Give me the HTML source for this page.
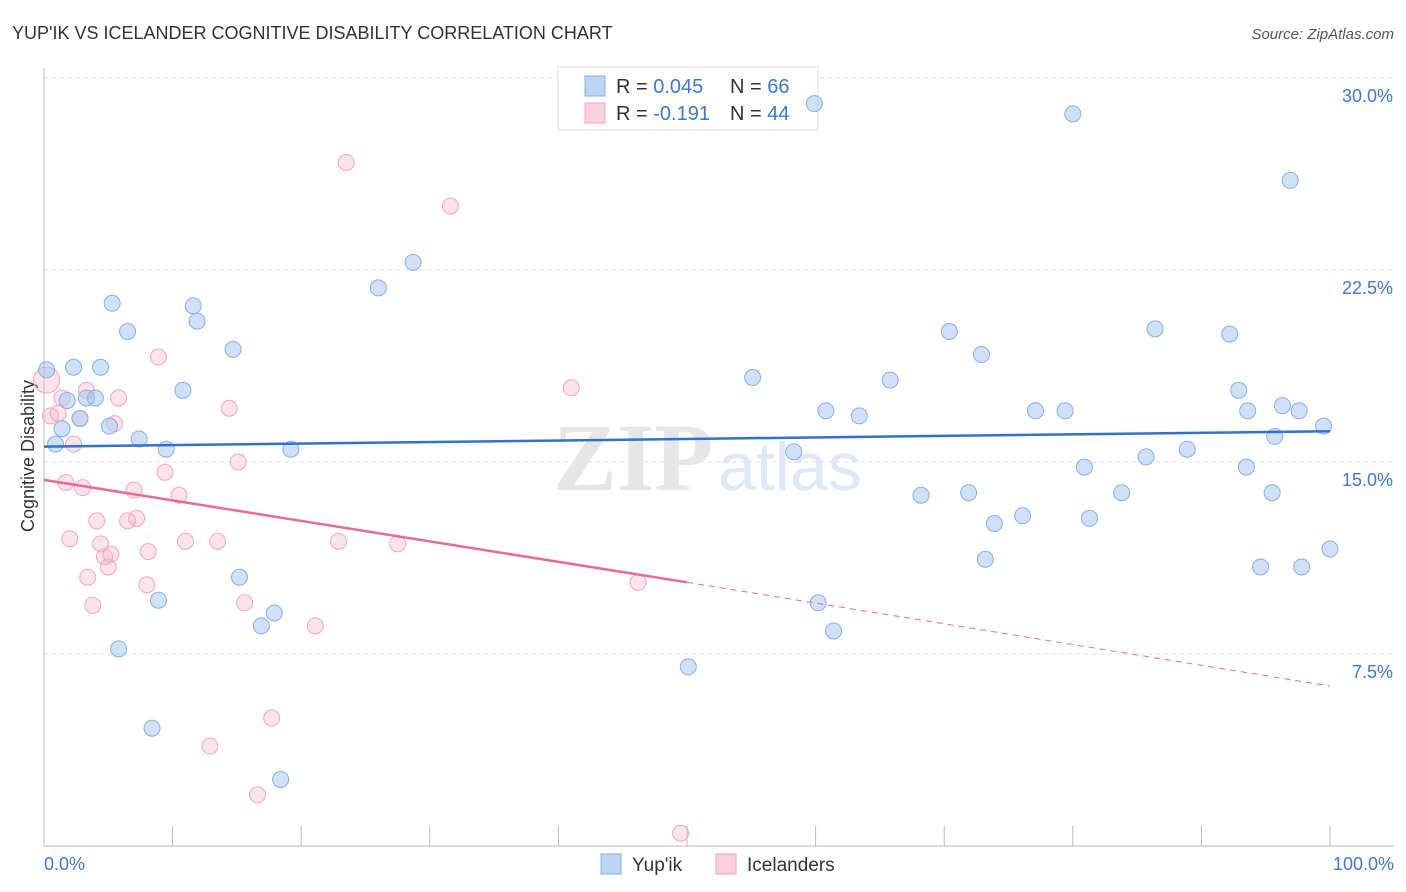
<!DOCTYPE html>
<html><head><meta charset="utf-8">
<style>
body{margin:0;background:#fff;font-family:"Liberation Sans",sans-serif;}
svg{display:block}
</style></head>
<body>
<svg id="chart" width="1406" height="892"></svg>
<script>
// Data (x in %, y in %)
const blueX=[0.2,0.9,1.4,1.8,2.3,2.8,3.3,4.0,4.4,5.1,5.3,5.8,6.5,7.4,8.4,8.9,9.5,10.8,11.6,11.9,14.7,15.2,16.9,17.9,18.4,19.2,26.0,28.7,50.1,55.1,58.3,59.9,60.2,60.8,61.4,63.4,65.8,68.2,70.4,71.9,72.9,73.2,73.9,76.1,77.1,79.4,80.0,80.9,81.3,83.8,85.7,86.4,88.9,92.2,92.9,93.5,93.6,94.6,95.5,95.7,96.3,96.9,97.6,97.8,99.5,100.0];
const blueY=[18.6,15.7,16.3,17.4,18.7,16.7,17.5,17.5,18.7,16.4,21.2,7.7,20.1,15.9,4.6,9.6,15.5,17.8,21.1,20.5,19.4,10.5,8.6,9.1,2.6,15.5,21.8,22.8,7.0,18.3,15.4,29.0,9.5,17.0,8.4,16.8,18.2,13.7,20.1,13.8,19.2,11.2,12.6,12.9,17.0,17.0,28.6,14.8,12.8,13.8,15.2,20.2,15.5,20.0,17.8,14.8,17.0,10.9,13.8,16.0,17.2,26.0,17.0,10.9,16.4,11.6];
const pinkX=[0.2,0.5,1.1,1.4,1.7,2.0,2.3,2.8,3.0,3.3,3.4,3.8,4.1,4.4,4.7,5.0,5.2,5.5,5.8,6.5,7.0,7.2,8.0,8.1,8.9,9.4,10.5,11.0,12.9,13.5,14.4,15.1,15.6,16.6,17.7,21.1,22.9,23.5,27.5,31.6,41.0,46.2,49.5];
const pinkY=[18.2,16.8,16.9,17.5,14.2,12.0,15.7,16.7,14.0,17.8,10.5,9.4,12.7,11.8,11.3,10.9,11.4,16.5,17.5,12.7,13.9,12.8,10.2,11.5,19.1,14.6,13.7,11.9,3.9,11.9,17.1,15.0,9.5,2.0,5.0,8.6,11.9,26.7,11.8,25.0,17.9,10.3,0.5];
const blueTrend=[15.6,16.2];
const pinkTrend=[14.3,10.3,6.25];
const yTicks=[7.5,15.0,22.5,30.0];
const yTickLabels=["7.5%","15.0%","22.5%","30.0%"];
const xTicks=[0,10,20,30,40,50,60,70,80,90,100];

const NS="http://www.w3.org/2000/svg";
const svg=document.getElementById('chart');
const sx=v=>44+v*12.86;
const sy=v=>846-v*25.6;
function el(tag,attrs,parent){const e=document.createElementNS(NS,tag);for(const k in attrs)e.setAttribute(k,attrs[k]);(parent||svg).appendChild(e);return e;}

let t=el('text',{x:12,y:39,'font-size':18,fill:'#333'});t.textContent="YUP'IK VS ICELANDER COGNITIVE DISABILITY CORRELATION CHART";


t=el('text',{x:1394,y:39,'font-size':15,fill:'#555','text-anchor':'end','font-style':'italic'});t.textContent="Source: ZipAtlas.com";



yTicks.forEach((v,i)=>{
  const g=el('line',{x1:44,x2:1394,y1:sy(v),y2:sy(v),stroke:'#e2e2e2','stroke-dasharray':'4,4'});
  
  
  const l=el('text',{x:1393,y:sy(v)+24,'font-size':18,fill:'#3b78d8','text-anchor':'end'});l.textContent=yTickLabels[i];
  
  
});
let a=el('line',{x1:44,x2:44,y1:68,y2:846,stroke:'#bbb'});


a=el('line',{x1:44,x2:1394,y1:846,y2:846,stroke:'#bbb'});


xTicks.forEach(v=>{const tk=el('line',{x1:sx(v),x2:sx(v),y1:826,y2:846,stroke:'#bbb'});
  
  });
t=el('text',{x:44,y:870,'font-size':18,fill:'#3b78d8'});t.textContent="0.0%";


t=el('text',{x:1394,y:870,'font-size':18,fill:'#3b78d8','text-anchor':'end'});t.textContent="100.0%";


t=el('text',{x:0,y:0,'font-size':18,fill:'#333','text-anchor':'middle',transform:'translate(34,456) rotate(-90)'});t.textContent="Cognitive Disability";



t=el('text',{x:553,y:490,'font-size':96,fill:'#e6e6e6','font-family':'Liberation Serif,serif','font-weight':'bold'});t.textContent="ZIP";


t=el('text',{x:718,y:490,'font-size':68,fill:'#dfe8f5'});t.textContent="atlas";



// legend box (drawn before points so points overlay it)
let lb=el('rect',{x:558,y:67,width:260,height:63,fill:'#fff',stroke:'#ddd'});


function legendRow(y,fill,stroke,r,n,name){
  const s=el('rect',{x:585,y:y-10,width:20,height:20,fill:fill,stroke:stroke});
  
  
  const tx=el('text',{x:616,y:y+7,'font-size':20,fill:'#333'});
  tx.innerHTML='R = <tspan fill="#3b78d8">'+r+'</tspan><tspan x="730">N = </tspan><tspan fill="#3b78d8">'+n+'</tspan>';
  
  
}
legendRow(86,'#bcd5f5','#86b0e6','0.045','66','yupik');
legendRow(113,'#fbd0de','#f2a6c0','-0.191','44','icelanders');

pinkX.forEach((x,i)=>{const c=el('circle',{cx:sx(x),cy:sy(pinkY[i]),r:i===0?13:8,fill:'rgba(246,176,200,0.35)',stroke:'#f2a6c0','stroke-width':1});
  
  });
blueX.forEach((x,i)=>{const c=el('circle',{cx:sx(x),cy:sy(blueY[i]),r:8,fill:'rgba(160,196,240,0.5)',stroke:'#86b0e6','stroke-width':1});
  
  });

let tl=el('line',{x1:sx(0),y1:sy(blueTrend[0]),x2:sx(100),y2:sy(blueTrend[1]),stroke:'#2f72d6','stroke-width':2.5});


tl=el('line',{x1:sx(0),y1:sy(pinkTrend[0]),x2:sx(50),y2:sy(pinkTrend[1]),stroke:'#e86a98','stroke-width':2.5});


tl=el('line',{x1:sx(50),y1:sy(pinkTrend[1]),x2:sx(100),y2:sy(pinkTrend[2]),stroke:'#e86a98','stroke-width':1,'stroke-dasharray':'6,5'});



let bs=el('rect',{x:601,y:854,width:20,height:20,fill:'#bcd5f5',stroke:'#86b0e6'});


t=el('text',{x:632,y:871,'font-size':19,fill:'#333'});t.textContent="Yup'ik";


bs=el('rect',{x:716,y:854,width:20,height:20,fill:'#fbd0de',stroke:'#f2a6c0'});


t=el('text',{x:747,y:871,'font-size':19,fill:'#333'});t.textContent="Icelanders";


</script>
</body></html>
